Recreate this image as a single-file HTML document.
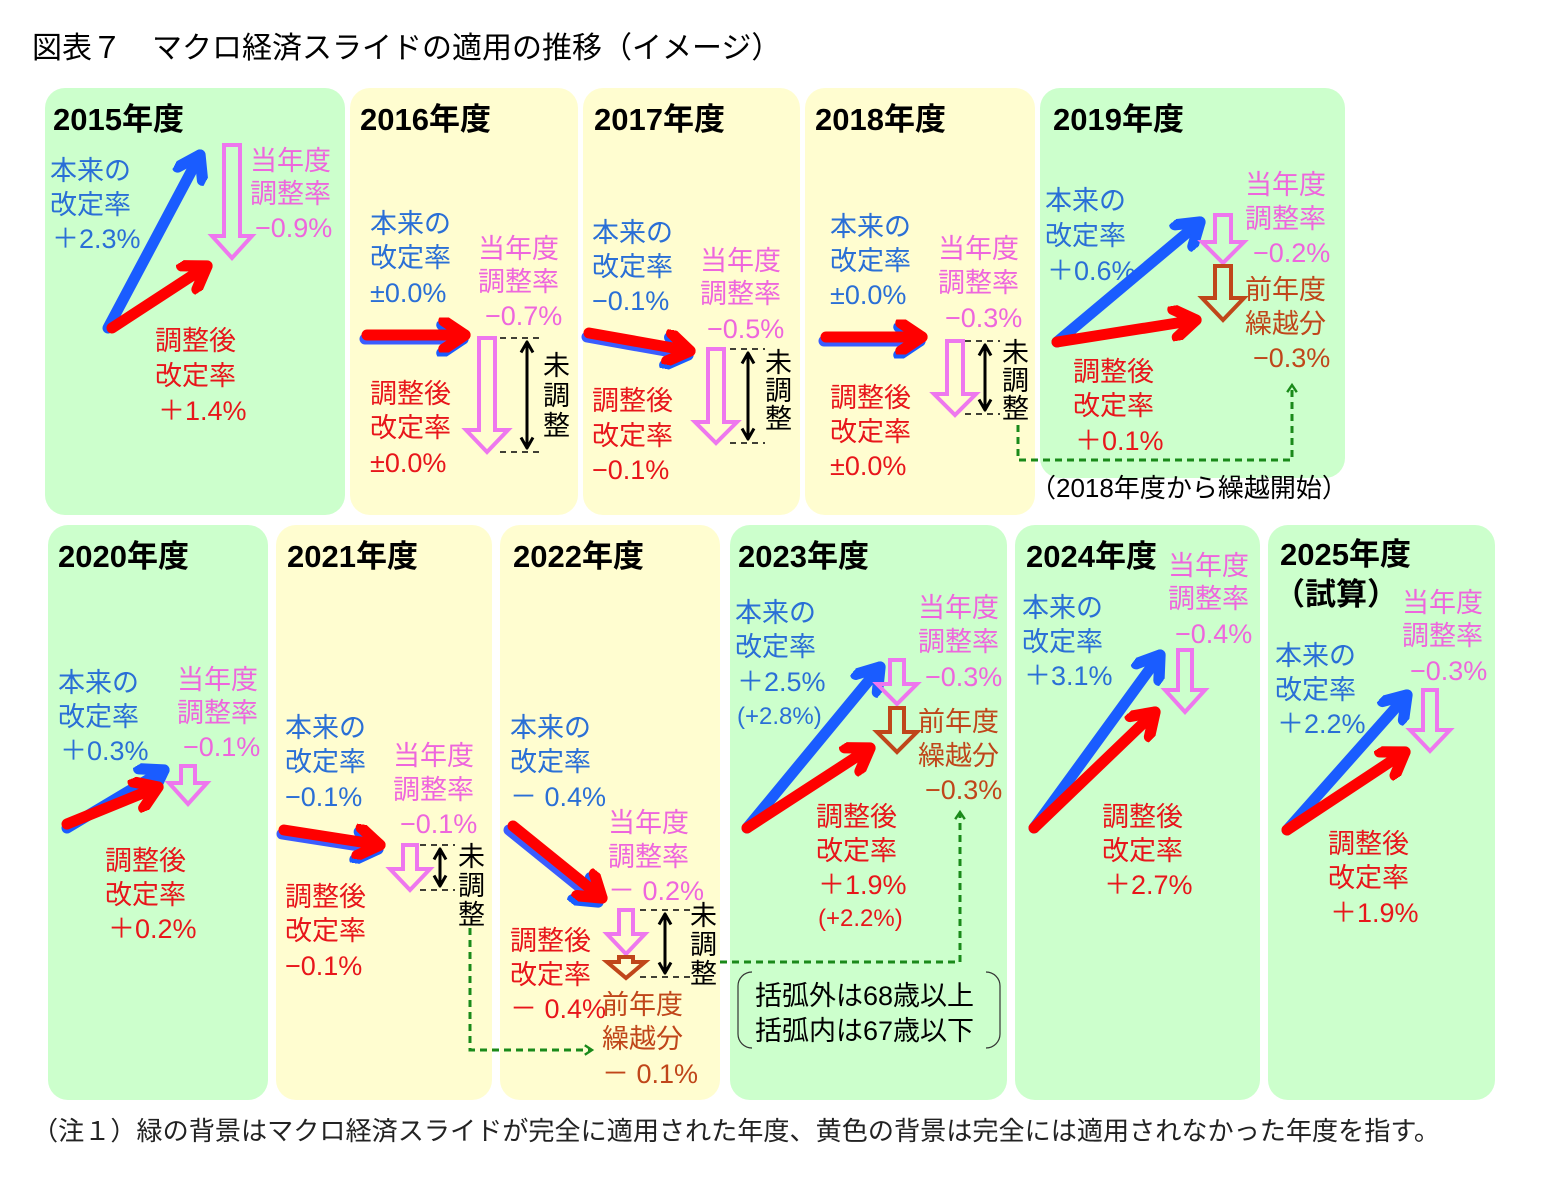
<!DOCTYPE html>
<html><head><meta charset="utf-8">
<style>
html,body{margin:0;padding:0;background:#fff;}
svg{display:block;}
text{font-family:"Liberation Sans","Noto Sans CJK JP",sans-serif;font-size:27px;}
.h{font-weight:bold;font-size:31px;fill:#000;}
.b{fill:#2a6fd6}.p{fill:#ee66dd}.r{fill:#e8161b}.o{fill:#c0461a}.k{fill:#000}
.g{fill:#ccffcc}.y{fill:#fffdd0}
.hp{fill:none;stroke:#ee77ee;stroke-width:4;stroke-linejoin:miter}
.ho{fill:none;stroke:#c0461a;stroke-width:4}
.ab{stroke:#1a5cff;stroke-width:11;stroke-linecap:round;marker-end:url(#mb)}
.ar{stroke:#ff0000;stroke-width:11;stroke-linecap:round;marker-end:url(#mr)}
.sb{stroke:#3a5cff;stroke-width:11;stroke-linecap:round;marker-end:url(#mb)}
.da{stroke:#000;stroke-width:3;marker-end:url(#mk);marker-start:url(#mk2)}
.dl{stroke:#000;stroke-width:1.5;stroke-dasharray:6,5}
.gd{stroke:#1a8a1a;stroke-width:3;stroke-dasharray:7,5;fill:none}
</style></head><body>
<svg width="1547" height="1181" viewBox="0 0 1547 1181" xmlns="http://www.w3.org/2000/svg">
<defs>
<marker id="mb" viewBox="0 0 10 10" refX="8" refY="5" markerWidth="3.2" markerHeight="3.2" orient="auto" markerUnits="strokeWidth"><path d="M2,1 L8,5 L2,9" fill="none" stroke="#1a5cff" stroke-width="3.2" stroke-linecap="round" stroke-linejoin="round"/></marker>
<marker id="mr" viewBox="0 0 10 10" refX="8" refY="5" markerWidth="3.2" markerHeight="3.2" orient="auto" markerUnits="strokeWidth"><path d="M2,1 L8,5 L2,9" fill="none" stroke="#ff0000" stroke-width="3.2" stroke-linecap="round" stroke-linejoin="round"/></marker>
<marker id="mk" viewBox="0 0 10 10" refX="9" refY="5" markerWidth="5" markerHeight="5" orient="auto" markerUnits="strokeWidth"><path d="M2,1 L9,5 L2,9" fill="none" stroke="#000" stroke-width="2"/></marker>
<marker id="mk2" viewBox="0 0 10 10" refX="1" refY="5" markerWidth="5" markerHeight="5" orient="auto" markerUnits="strokeWidth"><path d="M8,1 L1,5 L8,9" fill="none" stroke="#000" stroke-width="2"/></marker>
<marker id="mg" viewBox="0 0 10 10" refX="8" refY="5" markerWidth="4" markerHeight="4" orient="auto" markerUnits="strokeWidth"><path d="M2,1 L8,5 L2,9" fill="none" stroke="#1a8a1a" stroke-width="2"/></marker>
</defs>

<text x="32" y="58" style="font-size:30px" class="k">図表７　マクロ経済スライドの適用の推移（イメージ）</text>

<rect class="g" x="45" y="88" width="300" height="427" rx="20"/>
<rect class="y" x="350" y="88" width="228" height="427" rx="20"/>
<rect class="y" x="583" y="88" width="217" height="427" rx="20"/>
<rect class="y" x="805" y="88" width="230" height="427" rx="20"/>
<rect class="g" x="1040" y="88" width="305" height="390" rx="20"/>
<rect class="g" x="48" y="525" width="220" height="575" rx="20"/>
<rect class="y" x="276" y="525" width="216" height="575" rx="20"/>
<rect class="y" x="500" y="525" width="220" height="575" rx="20"/>
<rect class="g" x="730" y="525" width="277" height="575" rx="20"/>
<rect class="g" x="1015" y="525" width="245" height="575" rx="20"/>
<rect class="g" x="1268" y="525" width="227" height="575" rx="20"/>

<!-- 2015 -->
<text class="h" x="53" y="130">2015年度</text>
<text class="b" x="50" y="180">本来の</text><text class="b" x="50" y="214">改定率</text><text class="b" x="52" y="248">＋2.3%</text>
<text class="p" x="250" y="170">当年度</text><text class="p" x="250" y="203">調整率</text><text class="p" x="255" y="237">−0.9%</text>
<line class="ab" x1="108" y1="328" x2="200" y2="155"/>
<line class="ar" x1="112" y1="328" x2="207" y2="266"/>
<polygon class="hp" points="224,145 240,145 240,236 252,236 232,258 212,236 224,236"/>
<text class="r" x="155" y="350">調整後</text><text class="r" x="155" y="385">改定率</text><text class="r" x="158" y="420">＋1.4%</text>

<!-- 2016 -->
<text class="h" x="360" y="130">2016年度</text>
<text class="b" x="370" y="233">本来の</text><text class="b" x="370" y="267">改定率</text><text class="b" x="370" y="302">±0.0%</text>
<text class="p" x="478" y="258">当年度</text><text class="p" x="478" y="291">調整率</text><text class="p" x="485" y="325">−0.7%</text>
<line class="sb" x1="365" y1="339" x2="463" y2="339"/>
<line class="ar" x1="367" y1="335" x2="465" y2="335"/>
<polygon class="hp" points="479,338 495,338 495,430 508,430 487,452 466,430 479,430"/>
<line class="dl" x1="500" y1="338" x2="540" y2="338"/><line class="dl" x1="500" y1="452" x2="540" y2="452"/>
<line class="da" x1="527" y1="342" x2="527" y2="448"/>
<text class="k" x="543" y="375">未</text><text class="k" x="543" y="405">調</text><text class="k" x="543" y="435">整</text>
<text class="r" x="370" y="403">調整後</text><text class="r" x="370" y="437">改定率</text><text class="r" x="370" y="472">±0.0%</text>

<!-- 2017 -->
<text class="h" x="594" y="130">2017年度</text>
<text class="b" x="592" y="242">本来の</text><text class="b" x="592" y="276">改定率</text><text class="b" x="592" y="310">−0.1%</text>
<text class="p" x="700" y="270">当年度</text><text class="p" x="700" y="303">調整率</text><text class="p" x="707" y="338">−0.5%</text>
<line class="sb" x1="587" y1="337" x2="688" y2="355"/>
<line class="ar" x1="589" y1="333" x2="690" y2="351"/>
<polygon class="hp" points="708,349 724,349 724,422 737,422 716,443 695,422 708,422"/>
<line class="dl" x1="730" y1="349" x2="765" y2="349"/><line class="dl" x1="730" y1="443" x2="765" y2="443"/>
<line class="da" x1="748" y1="353" x2="748" y2="439"/>
<text class="k" x="765" y="372">未</text><text class="k" x="765" y="400">調</text><text class="k" x="765" y="428">整</text>
<text class="r" x="592" y="410">調整後</text><text class="r" x="592" y="445">改定率</text><text class="r" x="592" y="479">−0.1%</text>

<!-- 2018 -->
<text class="h" x="815" y="130">2018年度</text>
<text class="b" x="830" y="236">本来の</text><text class="b" x="830" y="270">改定率</text><text class="b" x="830" y="304">±0.0%</text>
<text class="p" x="938" y="258">当年度</text><text class="p" x="938" y="292">調整率</text><text class="p" x="945" y="327">−0.3%</text>
<line class="sb" x1="824" y1="341" x2="920" y2="341"/>
<line class="ar" x1="826" y1="337" x2="922" y2="337"/>
<polygon class="hp" points="947,341 963,341 963,394 976,394 955,415 934,394 947,394"/>
<line class="dl" x1="965" y1="341" x2="1000" y2="341"/><line class="dl" x1="965" y1="414" x2="1000" y2="414"/>
<line class="da" x1="985" y1="345" x2="985" y2="410"/>
<text class="k" x="1002" y="362">未</text><text class="k" x="1002" y="390">調</text><text class="k" x="1002" y="418">整</text>
<text class="r" x="830" y="407">調整後</text><text class="r" x="830" y="441">改定率</text><text class="r" x="830" y="475">±0.0%</text>

<!-- 2019 -->
<text class="h" x="1053" y="130">2019年度</text>
<text class="b" x="1045" y="210">本来の</text><text class="b" x="1045" y="245">改定率</text><text class="b" x="1047" y="280">＋0.6%</text>
<text class="p" x="1245" y="194">当年度</text><text class="p" x="1245" y="228">調整率</text><text class="p" x="1253" y="262">−0.2%</text>
<line class="ab" x1="1057" y1="342" x2="1200" y2="222"/>
<line class="ar" x1="1057" y1="342" x2="1196" y2="320"/>
<polygon class="hp" points="1215,215 1231,215 1231,242 1244,242 1223,263 1202,242 1215,242"/>
<polygon class="ho" points="1215,266 1231,266 1231,298 1244,298 1223,320 1202,298 1215,298"/>
<text class="o" x="1245" y="299">前年度</text><text class="o" x="1245" y="333">繰越分</text><text class="o" x="1253" y="367">−0.3%</text>
<text class="r" x="1073" y="381">調整後</text><text class="r" x="1073" y="415">改定率</text><text class="r" x="1075" y="450">＋0.1%</text>
<polyline class="gd" points="1018,425 1018,460 1292,460 1292,385" marker-end="url(#mg)"/>
<text class="k" x="1030" y="497" style="font-size:26px">（2018年度から繰越開始）</text>

<!-- 2020 -->
<text class="h" x="58" y="567">2020年度</text>
<text class="b" x="58" y="692">本来の</text><text class="b" x="58" y="726">改定率</text><text class="b" x="60" y="760">＋0.3%</text>
<text class="p" x="177" y="689">当年度</text><text class="p" x="177" y="722">調整率</text><text class="p" x="183" y="756">−0.1%</text>
<line class="ab" x1="67" y1="828" x2="164" y2="770"/>
<line class="ar" x1="67" y1="824" x2="158" y2="787"/>
<polygon class="hp" points="181,766 195,766 195,783 207,783 188,804 169,783 181,783"/>
<text class="r" x="105" y="870">調整後</text><text class="r" x="105" y="904">改定率</text><text class="r" x="108" y="938">＋0.2%</text>

<!-- 2021 -->
<text class="h" x="287" y="567">2021年度</text>
<text class="b" x="285" y="737">本来の</text><text class="b" x="285" y="771">改定率</text><text class="b" x="285" y="806">−0.1%</text>
<text class="p" x="393" y="765">当年度</text><text class="p" x="393" y="799">調整率</text><text class="p" x="400" y="833">−0.1%</text>
<line class="sb" x1="282" y1="834" x2="378" y2="849"/>
<line class="ar" x1="284" y1="830" x2="380" y2="845"/>
<polygon class="hp" points="403,845 417,845 417,869 430,869 410,890 390,869 403,869"/>
<line class="dl" x1="420" y1="845" x2="455" y2="845"/><line class="dl" x1="420" y1="890" x2="455" y2="890"/>
<line class="da" x1="440" y1="849" x2="440" y2="886"/>
<text class="k" x="458" y="866">未</text><text class="k" x="458" y="895">調</text><text class="k" x="458" y="924">整</text>
<text class="r" x="285" y="906">調整後</text><text class="r" x="285" y="940">改定率</text><text class="r" x="285" y="975">−0.1%</text>
<polyline class="gd" points="470,928 470,1050 592,1050" marker-end="url(#mg)"/>

<!-- 2022 -->
<text class="h" x="513" y="567">2022年度</text>
<text class="b" x="510" y="737">本来の</text><text class="b" x="510" y="771">改定率</text><text class="b" x="510" y="806">－ 0.4%</text>
<line class="sb" x1="509" y1="830" x2="598" y2="902"/>
<line class="ar" x1="513" y1="826" x2="602" y2="898"/>
<text class="p" x="608" y="832">当年度</text><text class="p" x="608" y="866">調整率</text><text class="p" x="608" y="900">－ 0.2%</text>
<polygon class="hp" points="619,910 633,910 633,934 645,934 626,954 607,934 619,934"/>
<polygon class="ho" points="619,957 633,957 633,962 645,962 626,978 607,962 619,962"/>
<line class="dl" x1="640" y1="910" x2="690" y2="910"/><line class="dl" x1="640" y1="977" x2="690" y2="977"/>
<line class="da" x1="665" y1="914" x2="665" y2="973"/>
<text class="k" x="690" y="925">未</text><text class="k" x="690" y="954">調</text><text class="k" x="690" y="983">整</text>
<text class="r" x="510" y="950">調整後</text><text class="r" x="510" y="984">改定率</text><text class="r" x="510" y="1018">－ 0.4%</text>
<text class="o" x="602" y="1014">前年度</text><text class="o" x="602" y="1048">繰越分</text><text class="o" x="602" y="1083">－ 0.1%</text>
<polyline class="gd" points="720,962 960,962 960,812" marker-end="url(#mg)"/>

<!-- 2023 -->
<text class="h" x="738" y="567">2023年度</text>
<text class="b" x="735" y="622">本来の</text><text class="b" x="735" y="656">改定率</text><text class="b" x="737" y="691">＋2.5%</text><text class="b" x="737" y="724" style="font-size:24px">(+2.8%)</text>
<text class="p" x="918" y="617">当年度</text><text class="p" x="918" y="651">調整率</text><text class="p" x="925" y="686">−0.3%</text>
<line class="ab" x1="747" y1="828" x2="880" y2="667"/>
<line class="ar" x1="747" y1="828" x2="870" y2="748"/>
<polygon class="hp" points="890,660 904,660 904,684 917,684 897,704 877,684 890,684"/>
<polygon class="ho" points="890,708 904,708 904,732 917,732 897,752 877,732 890,732"/>
<text class="o" x="918" y="731">前年度</text><text class="o" x="918" y="765">繰越分</text><text class="o" x="925" y="799">−0.3%</text>
<text class="r" x="816" y="826">調整後</text><text class="r" x="816" y="860">改定率</text><text class="r" x="818" y="894">＋1.9%</text><text class="r" x="818" y="926" style="font-size:24px">(+2.2%)</text>
<rect x="738" y="972" width="262" height="76" rx="14" fill="none" stroke="#333" stroke-width="1.2"/>
<rect x="752" y="966" width="234" height="88" fill="#ccffcc"/>
<text class="k" x="755" y="1005">括弧外は68歳以上</text><text class="k" x="755" y="1040">括弧内は67歳以下</text>

<!-- 2024 -->
<text class="h" x="1026" y="567">2024年度</text>
<text class="p" x="1168" y="575">当年度</text><text class="p" x="1168" y="608">調整率</text><text class="p" x="1175" y="643">−0.4%</text>
<text class="b" x="1022" y="617">本来の</text><text class="b" x="1022" y="651">改定率</text><text class="b" x="1024" y="685">＋3.1%</text>
<line class="ab" x1="1034" y1="828" x2="1160" y2="655"/>
<line class="ar" x1="1034" y1="828" x2="1155" y2="712"/>
<polygon class="hp" points="1178,650 1192,650 1192,690 1205,690 1185,712 1165,690 1178,690"/>
<text class="r" x="1102" y="826">調整後</text><text class="r" x="1102" y="860">改定率</text><text class="r" x="1104" y="894">＋2.7%</text>

<!-- 2025 -->
<text class="h" x="1280" y="565">2025年度</text>
<text class="h" x="1274" y="605">（試算）</text>
<text class="p" x="1402" y="612">当年度</text><text class="p" x="1402" y="645">調整率</text><text class="p" x="1410" y="680">−0.3%</text>
<text class="b" x="1275" y="665">本来の</text><text class="b" x="1275" y="699">改定率</text><text class="b" x="1277" y="733">＋2.2%</text>
<line class="ab" x1="1287" y1="830" x2="1407" y2="695"/>
<line class="ar" x1="1287" y1="830" x2="1405" y2="752"/>
<polygon class="hp" points="1423,690 1437,690 1437,730 1450,730 1430,751 1410,730 1423,730"/>
<text class="r" x="1328" y="853">調整後</text><text class="r" x="1328" y="887">改定率</text><text class="r" x="1330" y="922">＋1.9%</text>

<text class="k" x="32" y="1140" style="font-size:26px;fill:#222" textLength="1408" lengthAdjust="spacingAndGlyphs">（注１）緑の背景はマクロ経済スライドが完全に適用された年度、黄色の背景は完全には適用されなかった年度を指す。</text>
</svg>
</body></html>
